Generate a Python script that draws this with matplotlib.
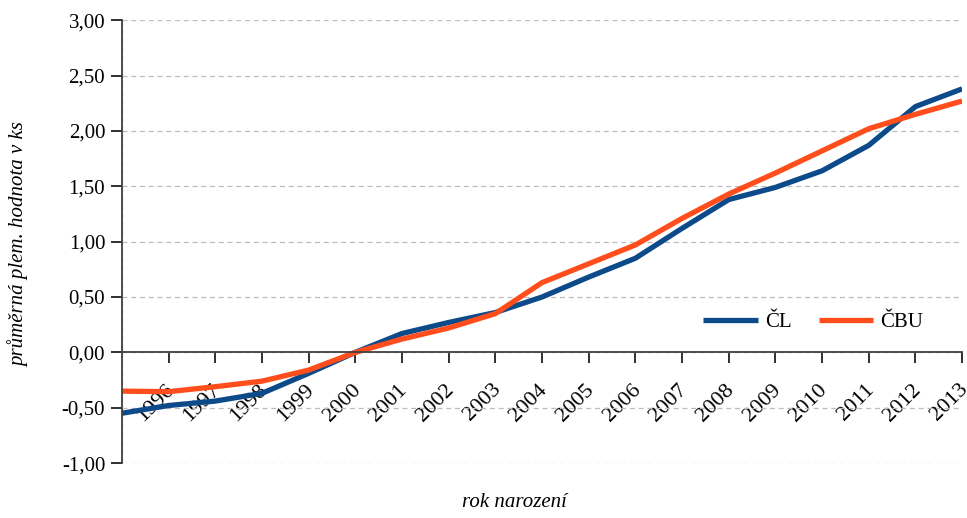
import matplotlib
matplotlib.use('Agg')
import matplotlib.pyplot as plt
import matplotlib.transforms as mtransforms
import numpy as np

plt.rcParams['font.family'] = 'Liberation Serif'
plt.rcParams['font.size'] = 15

# data
years = list(range(1995, 2014))
cl = [-0.55, -0.48, -0.44, -0.37, -0.19, 0.00, 0.17, 0.27, 0.36, 0.50,
      0.68, 0.85, 1.12, 1.38, 1.49, 1.64, 1.87, 2.22, 2.38]
cbu = [-0.35, -0.355, -0.31, -0.26, -0.16, 0.00, 0.12, 0.22, 0.35, 0.63,
       0.80, 0.97, 1.21, 1.43, 1.62, 1.82, 2.02, 2.15, 2.27]
tick_years = years[1:]
yticks = [-1.0, -0.5, 0.0, 0.5, 1.0, 1.5, 2.0, 2.5, 3.0]

fig = plt.figure(figsize=(9.67, 5.18), dpi=100)
ax = fig.add_axes([0.126, 0.106, 0.869, 0.855])

ax.plot(years, cl, color='#0d4a8a', lw=3.8, label='ČL', solid_capstyle='butt')
ax.plot(years, cbu, color='#ff4e1b', lw=3.8, label='ČBU', solid_capstyle='butt')

ax.set_xlim(1995, 2013)
ax.set_ylim(-1.0, 3.0)
ax.set_yticks(yticks)
ax.set_yticklabels([f'{v:.2f}'.replace('.', ',') for v in yticks])
ax.set_xticks(tick_years)
ax.set_xticklabels([str(y) for y in tick_years])

# mřížka
ax.set_xticks(years, minor=True)
ax.grid(True, which='minor', axis='x', ls=(0, (4, 3)), color='#bcbcbc', lw=0.9)
ax.grid(True, which='major', axis='y', ls=(0, (4, 3)), color='#bcbcbc', lw=0.9)
ax.set_axisbelow(True)

for s in ['top', 'right']:
    ax.spines[s].set_visible(False)
ax.spines['bottom'].set_position(('data', 0))
ax.spines['bottom'].set_color('#404040')
ax.spines['left'].set_color('#404040')
ax.spines['bottom'].set_linewidth(1.3)
ax.spines['left'].set_linewidth(1.3)
ax.tick_params(axis='x', which='major', length=8, width=1.3, color='#202020', pad=12)
ax.tick_params(axis='x', which='minor', length=0)
ax.tick_params(axis='y', length=8, width=1.3, color='#202020', pad=4)
# popisky let šikmo, lehce posunuté doleva
shift = mtransforms.ScaledTranslation(-3 / 72, 0, fig.dpi_scale_trans)
for lbl in ax.get_xticklabels():
    lbl.set_rotation(45)
    lbl.set_ha('right')
    lbl.set_rotation_mode('anchor')
    lbl.set_fontsize(16)
    lbl.set_transform(lbl.get_transform() + shift)

fig.text(0.532, 0.012, 'rok narození', ha='center', va='bottom', style='italic', fontsize=15)
fig.text(0.019, 0.527, 'průměrná plem. hodnota v ks', ha='center', va='center',
         rotation=90, style='italic', fontsize=15)

ax.legend(loc='center left', bbox_to_anchor=(0.692, 0.318), ncol=2, frameon=False,
          borderpad=0, borderaxespad=0, handlelength=2.6, columnspacing=1.3,
          handletextpad=0.35, fontsize=15)

fig.savefig('out.png', dpi=100)
